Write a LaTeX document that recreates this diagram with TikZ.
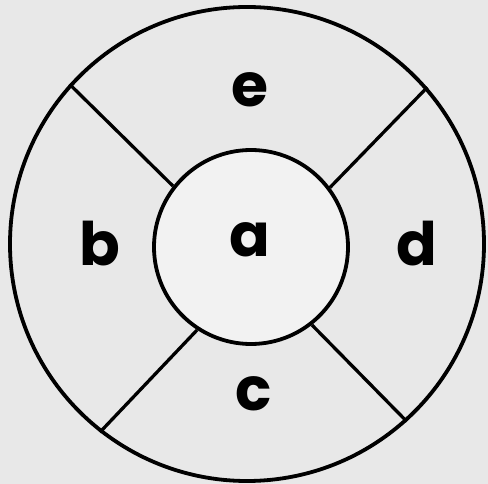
\documentclass[tikz,border=0pt]{standalone}
\usepackage{fontspec}
\setmainfont{Poppins}
\begin{document}
\begin{tikzpicture}[x=1pt,y=-1pt,
  ring/.style={draw=black,line width=3.8pt},
  spoke/.style={draw=black,line width=3.3pt},
  lbl/.style={font=\fontsize{60}{60}\selectfont\bfseries,inner sep=0pt,text=black}]
\fill[black!9] (0,0) rectangle (488,484);
\useasboundingbox (0,0) rectangle (488,484);
\node[circle,ring,minimum size=474pt,inner sep=0pt] (outer) at (247,244) {};
\node[circle,ring,minimum size=194pt,inner sep=0pt,fill=black!5] (inner) at (251,247) {};
\draw[spoke] (outer.138) -- (inner.142);
\draw[spoke] (outer.41) -- (inner.37);
\draw[spoke] (outer.-128) -- (inner.-123);
\draw[spoke] (outer.-48) -- (inner.-52);
\node[lbl] (a) at (250,240) {a};
\node[lbl] (b) at (100,244) {b};
\node[lbl] (c) at (254,394) {c};
\node[lbl] (d) at (417,244) {d};
\node[lbl] (e) at (250,90) {e};
\end{tikzpicture}
\end{document}
